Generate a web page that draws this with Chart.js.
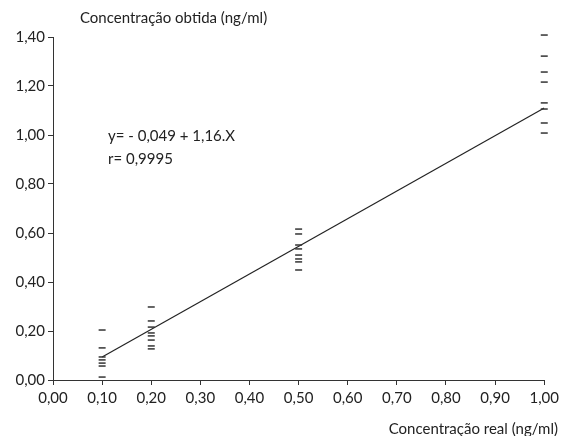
<!DOCTYPE html><html lang="pt">
<head>
  <meta charset="UTF-8" />
  <title>Concentração real x obtida</title>
  <style>
    html, body { margin:0; padding:0; background:#fff; }
    #wrap { width:563px; height:436px; position:relative; }
  </style>
  <script src="https://cdn.jsdelivr.net/npm/chart.js"></script>
</head>
<body>
  <div id="wrap"><canvas id="chart" width="563" height="436"></canvas></div>
<script>
  // dados
  const xTicks = [0, 0.1, 0.2, 0.3, 0.4, 0.5, 0.6, 0.7, 0.8, 0.9, 1.0];
  const yTicks = [0, 0.2, 0.4, 0.6, 0.8, 1.0, 1.2, 1.4];
  const conc010 = [0.204, 0.131, 0.094, 0.082, 0.069, 0.057, 0.012];
  const conc020 = [0.298, 0.241, 0.216, 0.192, 0.180, 0.163, 0.139, 0.127];
  const conc050 = [0.616, 0.596, 0.551, 0.535, 0.510, 0.494, 0.482, 0.449];
  const conc100 = [1.408, 1.322, 1.257, 1.216, 1.131, 1.106, 1.049, 1.008];
  const fitX = [0.1, 1.0];
  const fitY = [0.094, 1.110];
  const yTitle = 'Concentração obtida (ng/ml)';
  const xTitle = 'Concentração real (ng/ml)';
  const eqLines = ['y= - 0,049 + 1,16.X', 'r= 0,9995'];

  const FONT = 'Lato, "Open Sans", sans-serif';
  const fmt = v => v.toFixed(2).replace('.', ',');

  const points = [];
  [[0.1, conc010], [0.2, conc020], [0.5, conc050], [1.0, conc100]].forEach(([x, ys]) => ys.forEach(y => points.push({x, y})));

  const textPlugin = {
    id: 'texts',
    afterDraw(chart) {
      const c = chart.ctx, xs = chart.scales.x, ys = chart.scales.y;
      c.save();
      c.fillStyle = '#222';
      c.font = '15px ' + FONT;
      c.textBaseline = 'middle';
      c.textAlign = 'left';
      c.fillText(yTitle, 80, 18);
      c.textAlign = 'right';
      c.fillText(xTitle, 558, 429);
      c.textAlign = 'left';
      c.fillText(eqLines[0], xs.getPixelForValue(0.112), ys.getPixelForValue(0.997));
      c.fillText(eqLines[1], xs.getPixelForValue(0.112), ys.getPixelForValue(0.9));
      c.restore();
    }
  };

  new Chart(document.getElementById('chart'), {
    type: 'scatter',
    data: {
      datasets: [
        { data: points, clip: false, pointStyle: 'line', pointRadius: 3.5, pointHoverRadius: 3.5, borderColor: '#333', borderWidth: 1.5, backgroundColor: '#333' },
        { type: 'line', data: fitX.map((x, i) => ({x, y: fitY[i]})), borderColor: '#222', borderWidth: 1.2, pointRadius: 0, fill: false }
      ]
    },
    options: {
      responsive: false,
      animation: false,
      layout: { padding: { top: 37, right: 17, left: 0, bottom: 0 } },
      plugins: { legend: { display: false }, tooltip: { enabled: false } },
      scales: {
        x: {
          type: 'linear', min: 0, max: 1,
          afterBuildTicks: s => { s.ticks = xTicks.map(v => ({value: v})); },
          afterFit: s => { s.height = 56; },
          grid: { drawOnChartArea: false, tickLength: 5, color: '#333' },
          border: { color: '#333', width: 1 },
          ticks: { callback: v => fmt(v), color: '#222', font: { family: FONT, size: 15 }, padding: 4, maxRotation: 0 }
        },
        y: {
          min: 0, max: 1.4,
          afterBuildTicks: s => { s.ticks = yTicks.map(v => ({value: v})); },
          afterFit: s => { s.width = 53; },
          grid: { drawOnChartArea: false, tickLength: 5, color: '#333' },
          border: { color: '#333', width: 1 },
          ticks: { callback: v => fmt(v), color: '#222', font: { family: FONT, size: 15 }, padding: 3 }
        }
      }
    },
    plugins: [textPlugin]
  });
</script>
</body>
</html>
